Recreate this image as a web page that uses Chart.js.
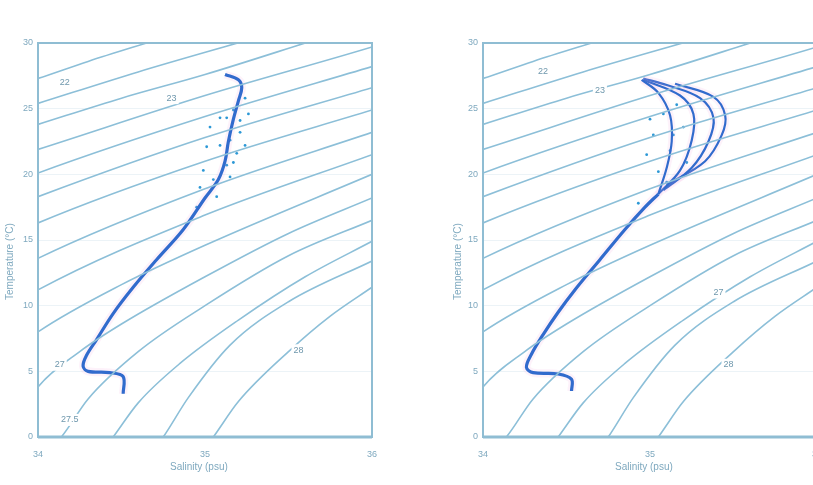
<!DOCTYPE html>
<html>
<head>
<meta charset="utf-8">
<script src="https://cdn.jsdelivr.net/npm/chart.js@4/dist/chart.umd.min.js"></script>
<style>
  html, body { margin: 0; padding: 0; background: #fff; overflow: hidden; }
  body { width: 813px; height: 485px; position: relative; font-family: "Liberation Sans", Arial, sans-serif; }
  .panel { position: absolute; top: 0; width: 400px; height: 485px; }
  .xtitle { position: absolute; top: 461px; font-size: 10px; color: #7fa9bf; white-space: nowrap; }
  .ytitle { position: absolute; font-size: 10px; color: #7fa9bf; white-space: nowrap; transform: rotate(-90deg); transform-origin: left top; }
</style>
</head>
<body>
<canvas id="leftChart" class="panel" width="400" height="485" style="left:0"></canvas>
<canvas id="rightChart" class="panel" width="400" height="485" style="left:445px"></canvas>
<div class="xtitle" style="left:170px">Salinity (psu)</div>
<div class="xtitle" style="left:615px">Salinity (psu)</div>
<div class="ytitle" style="left:4px; top:300px">Temperature (°C)</div>
<div class="ytitle" style="left:452px; top:300px">Temperature (°C)</div>
<script>
// Axis ticks
const salinityTicks = [34, 35, 36];
const temperatureTicks = [0, 5, 10, 15, 20, 25, 30];

// Density (sigma-t) contours as [salinity, temperature]
const isopycnals = [
    [[33.9, 26.9], [34, 27.3], [34.3, 28.6], [34.7, 30.2]],
    [[33.9, 25.0], [34, 25.4], [34.6, 27.8], [35.25, 30.2]],
    [[33.9, 23.4], [34, 23.8], [34.5, 25.8], [35, 27.6], [35.65, 30.2]],
    [[33.9, 21.5], [34, 21.9], [35, 26.0], [36, 29.7], [36.1, 30.1]],
    [[33.9, 19.6], [34, 20.1], [35, 24.4], [36, 28.2]],
    [[33.9, 17.8], [34, 18.3], [35, 22.8], [36, 26.6]],
    [[33.9, 15.7], [34, 16.3], [35, 21.0], [36, 24.9]],
    [[33.9, 12.9], [34, 13.6], [35, 18.9], [36, 23.2]],
    [[33.9, 10.4], [34, 11.2], [35, 16.9], [36, 21.5]],
    [[33.9, 7.0], [34, 8.0], [34.5, 11.6], [35, 14.6], [36, 20.0]],
    [[33.95, 2.8], [34, 3.8], [34.25, 6.5], [34.5, 8.6], [35, 12.2], [35.5, 15.5], [36, 18.2]],
    [[34.1, -0.5], [34.14, 0], [34.3, 2.9], [34.6, 6.5], [35, 10.0], [35.5, 13.8], [36, 16.5]],
    [[34.42, -0.5], [34.45, 0], [34.6, 2.6], [34.85, 5.6], [35.2, 8.9], [35.6, 12.2], [36, 14.9]],
    [[34.72, -0.5], [34.75, 0], [34.9, 3.0], [35.15, 7.0], [35.5, 10.3], [36, 13.4]],
    [[35.02, -0.5], [35.05, 0], [35.2, 2.7], [35.5, 6.5], [35.75, 9.2], [36, 11.4]]
];

// Contour labels (text, salinity, temperature)
const leftLabelText = ['22', '23', '27', '27.5', '28'];
const leftLabelS = [34.16, 34.8, 34.13, 34.19, 35.56];
const leftLabelT = [27.0, 25.8, 5.5, 1.3, 6.6];
const rightLabelText = ['22', '23', '27', '28'];
const rightLabelS = [34.36, 34.7, 35.41, 35.47];
const rightLabelT = [27.8, 26.4, 11.0, 5.5];

// Left panel: T-S profile
const leftTraceS = [34.51, 34.51, 34.43, 34.3, 34.27, 34.29, 34.35, 34.45, 34.57, 34.71, 34.87, 35.0, 35.08, 35.12, 35.14, 35.17, 35.2, 35.22, 35.2, 35.12];
const leftTraceT = [3.3, 4.6, 4.9, 5.0, 5.4, 6.2, 7.4, 9.4, 11.4, 13.5, 15.8, 18.2, 19.6, 21.0, 22.5, 24.2, 25.6, 26.6, 27.2, 27.6];
const leftCloudS = [35.01, 35.09, 35.13, 35.15, 35.09, 35.13, 35.21, 35.24, 35.15, 35.17, 34.99, 35.05, 34.97, 35.17, 35.21, 35.07, 34.95, 35.24, 35.26, 35.19, 35.03];
const leftCloudT = [22.1, 22.2, 20.7, 19.8, 24.3, 24.3, 23.2, 22.2, 22.6, 20.9, 20.3, 19.6, 19.0, 24.9, 24.1, 18.3, 17.5, 25.8, 24.6, 21.6, 23.6];

// Right panel: lower trunk and the fan of upper profiles
const rightTrunkS = [34.53, 34.53, 34.45, 34.3, 34.26, 34.29, 34.36, 34.45, 34.55, 34.7, 34.85, 34.97, 35.05];
const rightTrunkT = [3.5, 4.4, 4.8, 4.9, 5.3, 6.3, 7.8, 9.5, 11.2, 13.5, 15.8, 17.5, 18.5];
const rightArc1S = [35.05, 35.1, 35.13, 35.12, 35.05, 34.95];
const rightArc1T = [18.5, 20.5, 22.5, 24.5, 26.2, 27.2];
const rightArc2S = [35.05, 35.18, 35.25, 35.26, 35.18, 34.96];
const rightArc2T = [18.5, 20.3, 22.6, 24.6, 26.0, 27.2];
const rightArc3S = [35.08, 35.25, 35.35, 35.38, 35.3, 35.1, 34.96];
const rightArc3T = [18.8, 20.5, 22.5, 24.3, 25.8, 26.8, 27.3];
const rightArc4S = [35.1, 35.33, 35.43, 35.45, 35.38, 35.15];
const rightArc4T = [19.2, 21.0, 23.0, 24.5, 25.9, 26.9];
const rightCloudS = [34.98, 35.02, 35.08, 35.12, 35.2, 35.16, 35.05, 35.1, 35.22, 35.0, 34.93, 35.14];
const rightCloudT = [21.5, 23.0, 24.6, 21.8, 23.6, 25.3, 20.2, 19.4, 20.9, 24.2, 17.8, 23.0];

const isoColor = '#8cbfd8';
const frameColor = '#8fbdd3';
const tickColor = '#7fa9bf';

function toPoints(xs, ys) {
    return xs.map((s, i) => ({ x: s, y: ys[i] }));
}

function traceDatasets(xs, ys, width) {
    return [
        { data: toPoints(xs, ys), borderColor: 'rgba(240, 150, 215, 0.12)', borderWidth: width + 5, pointRadius: 0, tension: 0.35, showLine: true },
        { data: toPoints(xs, ys), borderColor: '#1766cc', borderWidth: width, pointRadius: 0, tension: 0.35, showLine: true }
    ];
}

function buildPanel(id, traces, cloud, labelText, labelS, labelT) {
    const datasets = [];
    isopycnals.forEach(line => {
        datasets.push({
            data: line.map(p => ({ x: p[0], y: p[1] })),
            borderColor: isoColor,
            borderWidth: 1.6,
            pointRadius: 0,
            showLine: true,
            cubicInterpolationMode: 'monotone'
        });
    });
    traces.forEach((t, i) => traceDatasets(t[0], t[1], i === 0 ? 3.2 : 2.2).forEach(d => datasets.push(d)));
    datasets.push({
        data: toPoints(cloud[0], cloud[1]),
        showLine: false,
        pointRadius: 1.4,
        pointBackgroundColor: '#2c98d6',
        pointBorderWidth: 0
    });

    const framePlugin = {
        id: 'frame',
        afterDraw(chart) {
            const { ctx, chartArea: a, scales } = chart;
            ctx.save();
            ctx.strokeStyle = frameColor;
            ctx.lineWidth = 2;
            ctx.strokeRect(a.left, a.top, a.right - a.left, a.bottom - a.top);
            ctx.lineWidth = 3;
            ctx.beginPath();
            ctx.moveTo(a.left, a.bottom);
            ctx.lineTo(a.right, a.bottom);
            ctx.stroke();
            // contour labels
            ctx.font = '9px "Liberation Sans", Arial, sans-serif';
            ctx.textAlign = 'center';
            ctx.textBaseline = 'middle';
            labelText.forEach((txt, i) => {
                const x = scales.x.getPixelForValue(labelS[i]);
                const y = scales.y.getPixelForValue(labelT[i]);
                const w = ctx.measureText(txt).width + 4;
                ctx.fillStyle = '#ffffff';
                ctx.fillRect(x - w / 2, y - 6, w, 12);
                ctx.fillStyle = '#6f98ad';
                ctx.fillText(txt, x, y);
            });
            ctx.restore();
        }
    };

    new Chart(document.getElementById(id), {
        type: 'scatter',
        data: { datasets },
        options: {
            responsive: false,
            animation: false,
            layout: { padding: { top: 43, right: 28, bottom: 28, left: 0 } },
            plugins: { legend: { display: false }, tooltip: { enabled: false } },
            scales: {
                x: {
                    type: 'linear',
                    min: salinityTicks[0],
                    max: salinityTicks[salinityTicks.length - 1],
                    afterBuildTicks: s => { s.ticks = salinityTicks.map(v => ({ value: v })); },
                    afterFit: s => { s.height = 20; },
                    grid: { display: false },
                    border: { display: false },
                    ticks: { color: tickColor, font: { size: 9 }, padding: 4 }
                },
                y: {
                    type: 'linear',
                    min: temperatureTicks[0],
                    max: temperatureTicks[temperatureTicks.length - 1],
                    afterBuildTicks: s => { s.ticks = temperatureTicks.map(v => ({ value: v })); },
                    afterFit: s => { s.width = 38; },
                    grid: { color: 'rgba(150, 190, 212, 0.18)', drawTicks: false },
                    border: { display: false },
                    ticks: { color: tickColor, font: { size: 9 }, padding: 5 }
                }
            }
        },
        plugins: [framePlugin]
    });
}

buildPanel('leftChart', [[leftTraceS, leftTraceT]], [leftCloudS, leftCloudT], leftLabelText, leftLabelS, leftLabelT);
buildPanel('rightChart',
    [[rightTrunkS, rightTrunkT], [rightArc1S, rightArc1T], [rightArc2S, rightArc2T], [rightArc3S, rightArc3T], [rightArc4S, rightArc4T]],
    [rightCloudS, rightCloudT], rightLabelText, rightLabelS, rightLabelT);
</script>
</body>
</html>
